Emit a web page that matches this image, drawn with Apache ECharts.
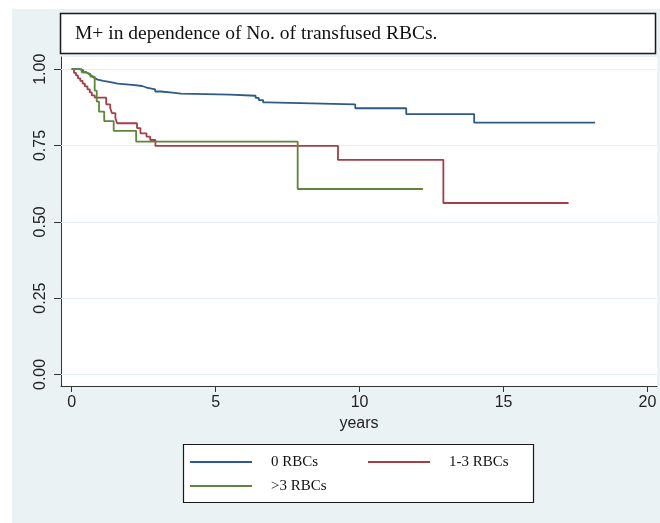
<!DOCTYPE html>
<html><head><meta charset="utf-8">
<script src="https://cdn.jsdelivr.net/npm/echarts@6/dist/echarts.min.js"></script>
<style>html,body{margin:0;padding:0;background:#fff}#c{width:660px;height:523px}</style>
</head><body><div id="c"></div><script>
const chartTitle = 'M+ in dependence of No. of transfused RBCs.';
const xAxisTitle = 'years';
const seriesNames = ['0 RBCs', '1-3 RBCs', '>3 RBCs'];
const xTicks = [0, 5, 10, 15, 20];
const yTicks = [0, 0.25, 0.5, 0.75, 1];

const time0 = [0, 0.25, 0.4, 0.5, 0.6, 0.7, 0.78, 0.9, 1.1, 1.35, 1.6, 2.1, 2.45, 2.6, 2.9, 3.1, 3.5, 3.8, 5.5, 6.39, 6.5, 6.65, 6.8, 9.85, 11.62, 13.98, 18.18];
const surv0 = [1.0, 0.997, 0.99, 0.984, 0.978, 0.972, 0.966, 0.962, 0.958, 0.953, 0.949, 0.945, 0.94, 0.934, 0.927, 0.923, 0.92, 0.917, 0.913, 0.906, 0.899, 0.891, 0.885, 0.872, 0.853, 0.825, 0.825];

const time13 = [0, 0.08, 0.15, 0.22, 0.3, 0.38, 0.46, 0.55, 0.63, 0.7, 0.8, 1.2, 1.34, 1.4, 1.52, 1.58, 2.27, 2.39, 2.6, 2.73, 2.91, 9.25, 12.91, 17.26];
const surv13 = [1.0, 0.988, 0.98, 0.97, 0.962, 0.953, 0.944, 0.934, 0.924, 0.914, 0.907, 0.885, 0.872, 0.856, 0.839, 0.823, 0.807, 0.79, 0.779, 0.768, 0.7485, 0.7026, 0.5616, 0.5616];

const time3 = [0, 0.35, 0.5, 0.65, 0.8, 0.87, 0.95, 1.13, 1.46, 2.24, 7.85, 12.2];
const surv3 = [1.0, 0.99, 0.984, 0.976, 0.93, 0.894, 0.861, 0.83, 0.798, 0.763, 0.6075, 0.6075];

const colors = ['#2f5a86', '#a23f47', '#5f8538'];
const pairs = (t, s) => t.map((v, i) => [v, s[i]]);
const dataSets = [pairs(time0, surv0), pairs(time13, surv13), pairs(time3, surv3)];

const chart = echarts.init(document.getElementById('c'), null, {renderer: 'canvas'});
const sansFont = '"Liberation Sans", Arial, sans-serif';
const serifFont = '"Liberation Serif", "Times New Roman", serif';

const legendBase = (name, left, top) => ({
  data: [name], left: left, top: top, orient: 'horizontal', padding: 0,
  icon: 'rect', itemWidth: 62, itemHeight: 2,
  textStyle: {fontFamily: serifFont, fontSize: 15, color: '#111', padding: [0, 0, 0, 14], lineHeight: 20},
  selectedMode: false
});

chart.setOption({
  animation: false,
  backgroundColor: '#eaf2f3',
  grid: {left: 61, right: 3, top: 57, bottom: 137, show: true, backgroundColor: '#ffffff', borderWidth: 0},
  xAxis: {
    type: 'value', min: -0.37, max: 20.33,
    name: xAxisTitle, nameLocation: 'middle', nameGap: 29,
    nameTextStyle: {fontFamily: sansFont, fontSize: 16, color: '#222'},
    axisLine: {show: true, onZero: false, lineStyle: {color: '#333', width: 1}},
    axisTick: {show: true, length: 6, customValues: xTicks, lineStyle: {color: '#333'}},
    axisLabel: {customValues: xTicks, fontFamily: sansFont, fontSize: 16, color: '#222', margin: 9},
    splitLine: {show: false}
  },
  yAxis: {
    type: 'value', min: -0.038, max: 1.04,
    axisLine: {show: true, onZero: false, lineStyle: {color: '#333', width: 1}},
    axisTick: {show: true, length: 7, customValues: yTicks, lineStyle: {color: '#333'}},
    axisLabel: {customValues: yTicks, rotate: 90, fontFamily: sansFont, fontSize: 16, color: '#222', margin: 12,
      formatter: v => v.toFixed(2)},
    splitLine: {show: false}
  },
  legend: [
    legendBase(seriesNames[0], 190, 452),
    legendBase(seriesNames[1], 368, 452),
    legendBase(seriesNames[2], 190, 476)
  ],
  graphic: [
    {type: 'rect', shape: {x: 0, y: 0, width: 12, height: 523}, style: {fill: '#fff'}, silent: true},
    {type: 'rect', shape: {x: 0, y: 0, width: 660, height: 9}, style: {fill: '#fff'}, silent: true},
    {type: 'rect', shape: {x: 60.5, y: 13.5, width: 595, height: 40}, style: {fill: '#fff', stroke: '#1a1a1a', lineWidth: 1.5}, silent: true},
    {type: 'text', x: 75, y: 34, style: {text: chartTitle, font: '19.5px ' + serifFont, fill: '#111', textVerticalAlign: 'middle'}, silent: true},
    {type: 'rect', z: -1, shape: {x: 183.5, y: 444.5, width: 350, height: 58}, style: {fill: '#fff', stroke: '#1a1a1a', lineWidth: 1.2}, silent: true}
  ],
  series: [
    {type: 'line', name: 'grid', data: [], silent: true, z: 1,
      markLine: {silent: true, z: 1, symbol: 'none', label: {show: false}, lineStyle: {color: '#e6eff1', width: 1.2, type: 'solid'},
        data: yTicks.map(v => ({yAxis: v}))}}
  ].concat(seriesNames.map((n, i) => ({
    type: 'line', name: n, data: dataSets[i], step: 'end', showSymbol: false, symbol: 'none', z: 3,
    color: colors[i], lineStyle: {color: colors[i], width: 1.8}
  })))
});
</script></body></html>
